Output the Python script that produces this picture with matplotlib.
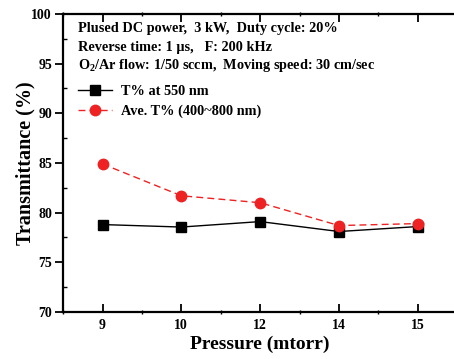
import matplotlib
matplotlib.use("Agg")
import matplotlib.pyplot as plt
from matplotlib.ticker import MultipleLocator

plt.rcParams['font.family'] = ['Liberation Serif', 'DejaVu Serif']
plt.rcParams['font.weight'] = 'bold'
plt.rcParams['mathtext.fontset'] = 'custom'
plt.rcParams['mathtext.rm'] = 'Liberation Serif:bold'

pressure = ['9', '10', '12', '14', '15']
t_550 = [78.8, 78.55, 79.1, 78.1, 78.6]
t_avg = [84.9, 81.7, 81.0, 78.7, 78.9]

fig = plt.figure(figsize=(4.54, 3.59), dpi=100)
ax = fig.add_axes([0.139, 0.131, 0.868, 0.830])

x = range(len(pressure))
ax.plot(x, t_550, color='black', lw=1.0, marker='s', ms=6.5, label='T% at 550 nm', zorder=3)
ax.plot(x, t_avg, color='#ee2222', lw=1.0, ls=(0, (5, 3)), marker='o', ms=7.5,
        label='Ave. T% (400~800 nm)', zorder=4)

ax.set_xlim(-0.5, 4.5)
ax.set_ylim(70, 100)
ax.set_xticks(list(x))
ax.set_xticklabels(pressure)
ax.xaxis.set_minor_locator(MultipleLocator(0.5))
ax.yaxis.set_major_locator(MultipleLocator(5))
ax.yaxis.set_minor_locator(MultipleLocator(2.5))

for s in ax.spines.values():
    s.set_linewidth(1.6)
ax.spines['right'].set_visible(False)

ax.tick_params(axis='x', which='major', direction='in', length=6, width=1.3, labelsize=10, pad=5)
ax.tick_params(axis='x', which='minor', direction='inout', length=3, width=1.0)
ax.tick_params(axis='y', which='major', direction='out', length=6, width=1.3, labelsize=10, pad=2)
ax.tick_params(axis='y', which='minor', direction='in', length=3, width=1.0)
ax.tick_params(axis='x', which='both', top=True)

ax.set_xlabel('Pressure (mtorr)', fontsize=14, fontweight='bold', labelpad=3)
ax.set_ylabel('Transmittance (%)', fontsize=14.5, fontweight='bold')
ax.yaxis.set_label_coords(-0.07, 0.5)

ax.text(0.038, 0.952, 'Plused DC power,  3 kW,  Duty cycle: 20%', transform=ax.transAxes,
        fontsize=10.3, fontweight='bold', va='center')
ax.text(0.038, 0.889, 'Reverse time: 1 \u03bcs,   F: 200 kHz', transform=ax.transAxes,
        fontsize=10.3, fontweight='bold', va='center')
ax.text(0.038, 0.828, r'O$_\mathregular{2}$/Ar flow: 1/50 sccm,  Moving speed: 30 cm/sec',
        transform=ax.transAxes, fontsize=10.3, fontweight='bold', va='center')

ax.legend(loc='upper left', bbox_to_anchor=(0.015, 0.79), frameon=False, fontsize=10.3,
          handlelength=2.4, handletextpad=0.6, labelspacing=0.45, borderaxespad=0.2)

fig.savefig('out.png', dpi=100)
